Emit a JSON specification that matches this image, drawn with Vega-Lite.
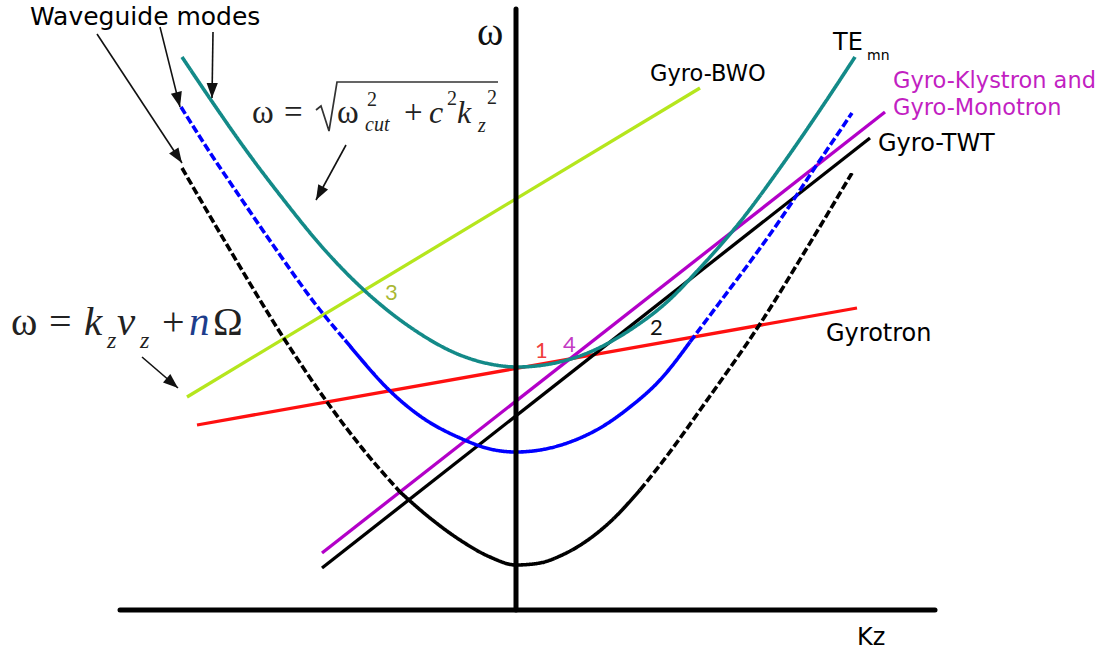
{
  "$schema": "https://vega.github.io/schema/vega-lite/v6.json",
  "width": 1115,
  "height": 652,
  "padding": 0,
  "autosize": {"type": "none"},
  "background": "white",
  "config": {"view": {"stroke": null}},
  "datasets": {
    "axes": [
      {"kz": 0, "w": 0, "kz2": 0, "w2": 6.01},
      {"kz": -3.96, "w": 0, "kz2": 4.19, "w2": 0}
    ],
    "modes": [
      {"mode": "upper", "part": "solid", "seg": "upper", "kz": -3.34, "w": 5.53},
      {"mode": "upper", "part": "solid", "seg": "upper", "kz": -3.03, "w": 5.07},
      {"mode": "upper", "part": "solid", "seg": "upper", "kz": -2.73, "w": 4.64},
      {"mode": "upper", "part": "solid", "seg": "upper", "kz": -2.33, "w": 4.11},
      {"mode": "upper", "part": "solid", "seg": "upper", "kz": -1.93, "w": 3.62},
      {"mode": "upper", "part": "solid", "seg": "upper", "kz": -1.51, "w": 3.19},
      {"mode": "upper", "part": "solid", "seg": "upper", "kz": -1.06, "w": 2.83},
      {"mode": "upper", "part": "solid", "seg": "upper", "kz": -0.56, "w": 2.55},
      {"mode": "upper", "part": "solid", "seg": "upper", "kz": -0.26, "w": 2.46},
      {"mode": "upper", "part": "solid", "seg": "upper", "kz": 0.01, "w": 2.43},
      {"mode": "upper", "part": "solid", "seg": "upper", "kz": 0.34, "w": 2.46},
      {"mode": "upper", "part": "solid", "seg": "upper", "kz": 0.74, "w": 2.58},
      {"mode": "upper", "part": "solid", "seg": "upper", "kz": 1.14, "w": 2.80},
      {"mode": "upper", "part": "solid", "seg": "upper", "kz": 1.51, "w": 3.08},
      {"mode": "upper", "part": "solid", "seg": "upper", "kz": 1.84, "w": 3.42},
      {"mode": "upper", "part": "solid", "seg": "upper", "kz": 2.24, "w": 3.88},
      {"mode": "upper", "part": "solid", "seg": "upper", "kz": 2.64, "w": 4.42},
      {"mode": "upper", "part": "solid", "seg": "upper", "kz": 3.04, "w": 5.00},
      {"mode": "upper", "part": "solid", "seg": "upper", "kz": 3.39, "w": 5.53},

      {"mode": "middle", "part": "dashed", "seg": "middle-left", "kz": -3.35, "w": 5.03},
      {"mode": "middle", "part": "dashed", "seg": "middle-left", "kz": -3.09, "w": 4.62},
      {"mode": "middle", "part": "dashed", "seg": "middle-left", "kz": -2.76, "w": 4.13},
      {"mode": "middle", "part": "dashed", "seg": "middle-left", "kz": -2.43, "w": 3.65},
      {"mode": "middle", "part": "dashed", "seg": "middle-left", "kz": -1.96, "w": 3.00},
      {"mode": "middle", "part": "dashed", "seg": "middle-left", "kz": -1.71, "w": 2.70},
      {"mode": "middle", "part": "solid", "seg": "middle-core", "kz": -1.71, "w": 2.70},
      {"mode": "middle", "part": "solid", "seg": "middle-core", "kz": -1.56, "w": 2.52},
      {"mode": "middle", "part": "solid", "seg": "middle-core", "kz": -1.29, "w": 2.22},
      {"mode": "middle", "part": "solid", "seg": "middle-core", "kz": -0.96, "w": 1.94},
      {"mode": "middle", "part": "solid", "seg": "middle-core", "kz": -0.56, "w": 1.72},
      {"mode": "middle", "part": "solid", "seg": "middle-core", "kz": -0.26, "w": 1.61},
      {"mode": "middle", "part": "solid", "seg": "middle-core", "kz": 0.00, "w": 1.58},
      {"mode": "middle", "part": "solid", "seg": "middle-core", "kz": 0.24, "w": 1.60},
      {"mode": "middle", "part": "solid", "seg": "middle-core", "kz": 0.54, "w": 1.68},
      {"mode": "middle", "part": "solid", "seg": "middle-core", "kz": 0.84, "w": 1.82},
      {"mode": "middle", "part": "solid", "seg": "middle-core", "kz": 1.14, "w": 2.03},
      {"mode": "middle", "part": "solid", "seg": "middle-core", "kz": 1.44, "w": 2.30},
      {"mode": "middle", "part": "solid", "seg": "middle-core", "kz": 1.74, "w": 2.68},
      {"mode": "middle", "part": "dashed", "seg": "middle-right", "kz": 1.74, "w": 2.68},
      {"mode": "middle", "part": "dashed", "seg": "middle-right", "kz": 2.04, "w": 3.08},
      {"mode": "middle", "part": "dashed", "seg": "middle-right", "kz": 2.34, "w": 3.48},
      {"mode": "middle", "part": "dashed", "seg": "middle-right", "kz": 2.64, "w": 3.90},
      {"mode": "middle", "part": "dashed", "seg": "middle-right", "kz": 2.94, "w": 4.35},
      {"mode": "middle", "part": "dashed", "seg": "middle-right", "kz": 3.36, "w": 4.97},

      {"mode": "lower", "part": "dashed", "seg": "lower-left", "kz": -3.34, "w": 4.42},
      {"mode": "lower", "part": "dashed", "seg": "lower-left", "kz": -2.86, "w": 3.60},
      {"mode": "lower", "part": "dashed", "seg": "lower-left", "kz": -2.33, "w": 2.73},
      {"mode": "lower", "part": "dashed", "seg": "lower-left", "kz": -1.89, "w": 2.08},
      {"mode": "lower", "part": "dashed", "seg": "lower-left", "kz": -1.54, "w": 1.62},
      {"mode": "lower", "part": "dashed", "seg": "lower-left", "kz": -1.16, "w": 1.18},
      {"mode": "lower", "part": "solid", "seg": "lower-core", "kz": -1.16, "w": 1.18},
      {"mode": "lower", "part": "solid", "seg": "lower-core", "kz": -0.86, "w": 0.92},
      {"mode": "lower", "part": "solid", "seg": "lower-core", "kz": -0.56, "w": 0.70},
      {"mode": "lower", "part": "solid", "seg": "lower-core", "kz": -0.26, "w": 0.53},
      {"mode": "lower", "part": "solid", "seg": "lower-core", "kz": 0.00, "w": 0.45},
      {"mode": "lower", "part": "solid", "seg": "lower-core", "kz": 0.24, "w": 0.47},
      {"mode": "lower", "part": "solid", "seg": "lower-core", "kz": 0.44, "w": 0.54},
      {"mode": "lower", "part": "solid", "seg": "lower-core", "kz": 0.69, "w": 0.68},
      {"mode": "lower", "part": "solid", "seg": "lower-core", "kz": 0.94, "w": 0.88},
      {"mode": "lower", "part": "solid", "seg": "lower-core", "kz": 1.24, "w": 1.20},
      {"mode": "lower", "part": "dashed", "seg": "lower-right", "kz": 1.24, "w": 1.20},
      {"mode": "lower", "part": "dashed", "seg": "lower-right", "kz": 1.44, "w": 1.45},
      {"mode": "lower", "part": "dashed", "seg": "lower-right", "kz": 1.94, "w": 2.14},
      {"mode": "lower", "part": "dashed", "seg": "lower-right", "kz": 2.44, "w": 2.86},
      {"mode": "lower", "part": "dashed", "seg": "lower-right", "kz": 2.91, "w": 3.62},
      {"mode": "lower", "part": "dashed", "seg": "lower-right", "kz": 3.36, "w": 4.37}
    ],
    "beams": [
      {"beam": "bwo", "kz": -3.29, "w": 2.13, "kz2": 1.84, "w2": 5.22},
      {"beam": "gyrotron", "kz": -3.19, "w": 1.85, "kz2": 3.41, "w2": 3.02},
      {"beam": "klystron", "kz": -1.94, "w": 0.57, "kz2": 3.69, "w2": 4.98},
      {"beam": "twt", "kz": -1.94, "w": 0.42, "kz2": 3.54, "w2": 4.72}
    ],
    "arrows": [
      {"kz": -4.19, "w": 5.76, "kz2": -3.34, "w2": 4.47},
      {"kz": -3.56, "w": 5.83, "kz2": -3.36, "w2": 5.03},
      {"kz": -3.03, "w": 5.78, "kz2": -3.04, "w2": 5.12},
      {"kz": -1.70, "w": 4.65, "kz2": -2.00, "w2": 4.10},
      {"kz": -3.74, "w": 2.53, "kz2": -3.38, "w2": 2.22}
    ],
    "sansLabels": [
      {"kz": -4.86, "w": 5.85, "text": "Waveguide modes", "tone": "ink", "role": "title"},
      {"kz": 3.17, "w": 5.60, "text": "TE", "tone": "ink", "role": "label"},
      {"kz": 3.51, "w": 5.50, "text": "mn", "tone": "ink", "role": "index"},
      {"kz": 1.34, "w": 5.29, "text": "Gyro-BWO", "tone": "ink", "role": "tag"},
      {"kz": 3.77, "w": 5.22, "text": "Gyro-Klystron and", "tone": "klystron", "role": "tag"},
      {"kz": 3.77, "w": 4.95, "text": "Gyro-Monotron", "tone": "klystron", "role": "tag"},
      {"kz": 3.62, "w": 4.59, "text": "Gyro-TWT", "tone": "ink", "role": "label"},
      {"kz": 3.10, "w": 2.69, "text": "Gyrotron", "tone": "ink", "role": "label"},
      {"kz": 3.41, "w": -0.35, "text": "Kz", "tone": "ink", "role": "label"}
    ],
    "crossings": [
      {"kz": 0.19, "w": 2.52, "text": "1", "tone": "gyrotron"},
      {"kz": 1.34, "w": 2.75, "text": "2", "tone": "twt"},
      {"kz": -1.31, "w": 3.10, "text": "3", "tone": "bwo"},
      {"kz": 0.47, "w": 2.58, "text": "4", "tone": "klystron"}
    ],
    "serif": [
      {"kz": -0.39, "w": 5.65, "text": "ω", "tone": "ink", "role": "axis"},
      {"kz": -2.64, "w": 4.87, "text": "ω", "tone": "ink", "role": "base"},
      {"kz": -2.32, "w": 4.87, "text": "=", "tone": "ink", "role": "base"},
      {"kz": -1.79, "w": 4.87, "text": "ω", "tone": "ink", "role": "base"},
      {"kz": -1.49, "w": 5.04, "text": "2", "tone": "ink", "role": "sup"},
      {"kz": -1.12, "w": 4.87, "text": "+", "tone": "ink", "role": "base"},
      {"kz": -0.69, "w": 5.05, "text": "2", "tone": "ink", "role": "sup"},
      {"kz": -0.29, "w": 5.06, "text": "2", "tone": "ink", "role": "sup"},
      {"kz": -5.05, "w": 2.75, "text": "ω", "tone": "ink", "role": "large"},
      {"kz": -4.67, "w": 2.75, "text": "=", "tone": "ink", "role": "large"},
      {"kz": -3.54, "w": 2.75, "text": "+", "tone": "ink", "role": "large"},
      {"kz": -3.03, "w": 2.75, "text": "Ω", "tone": "ink", "role": "large"}
    ],
    "serifItalic": [
      {"kz": -1.51, "w": 4.79, "text": "cut", "tone": "ink", "role": "sub"},
      {"kz": -0.87, "w": 4.87, "text": "c", "tone": "ink", "role": "base"},
      {"kz": -0.59, "w": 4.87, "text": "k", "tone": "ink", "role": "base"},
      {"kz": -0.38, "w": 4.78, "text": "z", "tone": "ink", "role": "sub"},
      {"kz": -4.32, "w": 2.75, "text": "k", "tone": "ink", "role": "large"},
      {"kz": -4.09, "w": 2.62, "text": "z", "tone": "ink", "role": "lsub"},
      {"kz": -3.99, "w": 2.75, "text": "v", "tone": "ink", "role": "large"},
      {"kz": -3.76, "w": 2.62, "text": "z", "tone": "ink", "role": "lsub"},
      {"kz": -3.27, "w": 2.75, "text": "n", "tone": "harmonic", "role": "large"}
    ],
    "radical": [
      {"kz": -2.00, "w": 5.00},
      {"kz": -1.95, "w": 5.04},
      {"kz": -1.87, "w": 4.79},
      {"kz": -1.79, "w": 5.28},
      {"kz": -0.18, "w": 5.28}
    ]
  },
  "encoding": {
    "x": {"field": "kz", "type": "quantitative", "scale": {"domain": [-5.16, 5.99], "nice": false, "zero": false}, "axis": null},
    "y": {"field": "w", "type": "quantitative", "scale": {"domain": [-0.42, 6.10], "nice": false, "zero": false}, "axis": null}
  },
  "layer": [
    {
      "data": {"name": "beams"},
      "mark": {"type": "rule", "strokeWidth": 3.3, "strokeCap": "butt"},
      "encoding": {
        "x2": {"field": "kz2"},
        "y2": {"field": "w2"},
        "color": {"field": "beam", "type": "nominal", "scale": {"domain": ["bwo", "gyrotron", "klystron", "twt"], "range": ["#b5e61d", "#ff1010", "#b300c8", "#000000"]}, "legend": null}
      }
    },
    {
      "data": {"name": "modes"},
      "mark": {"type": "line", "strokeWidth": 3.6, "interpolate": "monotone", "strokeCap": "butt"},
      "encoding": {
        "detail": {"field": "seg", "type": "nominal"},
        "color": {"field": "mode", "type": "nominal", "scale": {"domain": ["upper", "middle", "lower"], "range": ["#138a88", "#0000ff", "#000000"]}, "legend": null},
        "strokeDash": {"field": "part", "type": "nominal", "scale": {"domain": ["solid", "dashed"], "range": [[1, 0], [8, 3]]}, "legend": null}
      }
    },
    {
      "data": {"name": "axes"},
      "mark": {"type": "rule", "strokeWidth": 5, "color": "#000000", "strokeCap": "round"},
      "encoding": {"x2": {"field": "kz2"}, "y2": {"field": "w2"}}
    },
    {
      "data": {"name": "arrows"},
      "mark": {"type": "rule", "strokeWidth": 1.6, "color": "#111111"},
      "encoding": {"x2": {"field": "kz2"}, "y2": {"field": "w2"}}
    },
    {
      "data": {"name": "arrows"},
      "transform": [
        {"calculate": "atan2(datum.kz2 - datum.kz, datum.w2 - datum.w) * 180 / PI", "as": "heading"}
      ],
      "mark": {"type": "point", "shape": "M0,0L0.6,1.6L-0.6,1.6Z", "filled": true, "color": "#111111", "opacity": 1, "size": 350, "strokeWidth": 0},
      "encoding": {
        "x": {"field": "kz2", "type": "quantitative", "scale": {"domain": [-5.16, 5.99], "nice": false, "zero": false}, "axis": null},
        "y": {"field": "w2", "type": "quantitative", "scale": {"domain": [-0.42, 6.10], "nice": false, "zero": false}, "axis": null},
        "angle": {"field": "heading", "type": "quantitative", "scale": null}
      }
    },
    {
      "data": {"name": "radical"},
      "mark": {"type": "line", "strokeWidth": 1.7, "color": "#333333", "strokeJoin": "miter"},
      "encoding": {}
    },
    {
      "data": {"name": "sansLabels"},
      "transform": [{"filter": "datum.role === 'title'"}],
      "mark": {"type": "text", "font": "DejaVu Sans", "align": "left", "baseline": "alphabetic", "fontSize": 25, "color": "#000000"},
      "encoding": {"text": {"field": "text"}}
    },
    {
      "data": {"name": "sansLabels"},
      "transform": [{"filter": "datum.role === 'label'"}],
      "mark": {"type": "text", "font": "DejaVu Sans", "align": "left", "baseline": "alphabetic", "fontSize": 24, "color": "#000000"},
      "encoding": {"text": {"field": "text"}}
    },
    {
      "data": {"name": "sansLabels"},
      "transform": [{"filter": "datum.role === 'tag'"}],
      "mark": {"type": "text", "font": "DejaVu Sans", "align": "left", "baseline": "alphabetic", "fontSize": 22.5},
      "encoding": {
        "text": {"field": "text"},
        "color": {"field": "tone", "type": "nominal", "scale": {"domain": ["ink", "klystron"], "range": ["#000000", "#c21fc2"]}, "legend": null}
      }
    },
    {
      "data": {"name": "sansLabels"},
      "transform": [{"filter": "datum.role === 'index'"}],
      "mark": {"type": "text", "font": "DejaVu Sans", "align": "left", "baseline": "alphabetic", "fontSize": 14, "color": "#000000"},
      "encoding": {"text": {"field": "text"}}
    },
    {
      "data": {"name": "crossings"},
      "mark": {"type": "text", "font": "Lato", "align": "left", "baseline": "alphabetic", "fontSize": 22},
      "encoding": {
        "text": {"field": "text"},
        "color": {"field": "tone", "type": "nominal", "scale": {"domain": ["gyrotron", "twt", "bwo", "klystron"], "range": ["#f03c3c", "#111111", "#aab832", "#c33ac3"]}, "legend": null}
      }
    },
    {
      "data": {"name": "serif"},
      "transform": [{"filter": "datum.role === 'axis'"}],
      "mark": {"type": "text", "font": "Liberation Serif", "align": "left", "baseline": "alphabetic", "fontSize": 40, "color": "#111111"},
      "encoding": {"text": {"field": "text"}}
    },
    {
      "data": {"name": "serif"},
      "transform": [{"filter": "datum.role === 'base'"}],
      "mark": {"type": "text", "font": "Liberation Serif", "align": "left", "baseline": "alphabetic", "fontSize": 33, "color": "#222222"},
      "encoding": {"text": {"field": "text"}}
    },
    {
      "data": {"name": "serif"},
      "transform": [{"filter": "datum.role === 'sup'"}],
      "mark": {"type": "text", "font": "Liberation Serif", "align": "left", "baseline": "alphabetic", "fontSize": 20, "color": "#222222"},
      "encoding": {"text": {"field": "text"}}
    },
    {
      "data": {"name": "serif"},
      "transform": [{"filter": "datum.role === 'large'"}],
      "mark": {"type": "text", "font": "Liberation Serif", "align": "left", "baseline": "alphabetic", "fontSize": 40, "color": "#222222"},
      "encoding": {"text": {"field": "text"}}
    },
    {
      "data": {"name": "serifItalic"},
      "transform": [{"filter": "datum.role === 'base'"}],
      "mark": {"type": "text", "font": "Liberation Serif", "fontStyle": "italic", "align": "left", "baseline": "alphabetic", "fontSize": 32, "color": "#222222"},
      "encoding": {"text": {"field": "text"}}
    },
    {
      "data": {"name": "serifItalic"},
      "transform": [{"filter": "datum.role === 'sub'"}],
      "mark": {"type": "text", "font": "Liberation Serif", "fontStyle": "italic", "align": "left", "baseline": "alphabetic", "fontSize": 20, "color": "#222222"},
      "encoding": {"text": {"field": "text"}}
    },
    {
      "data": {"name": "serifItalic"},
      "transform": [{"filter": "datum.role === 'large'"}],
      "mark": {"type": "text", "font": "Liberation Serif", "fontStyle": "italic", "align": "left", "baseline": "alphabetic", "fontSize": 41},
      "encoding": {
        "text": {"field": "text"},
        "color": {"field": "tone", "type": "nominal", "scale": {"domain": ["ink", "harmonic"], "range": ["#222222", "#1d3d8c"]}, "legend": null}
      }
    },
    {
      "data": {"name": "serifItalic"},
      "transform": [{"filter": "datum.role === 'lsub'"}],
      "mark": {"type": "text", "font": "Liberation Serif", "fontStyle": "italic", "align": "left", "baseline": "alphabetic", "fontSize": 24, "color": "#222222"},
      "encoding": {"text": {"field": "text"}}
    }
  ],
  "resolve": {"scale": {"color": "independent"}}
}
